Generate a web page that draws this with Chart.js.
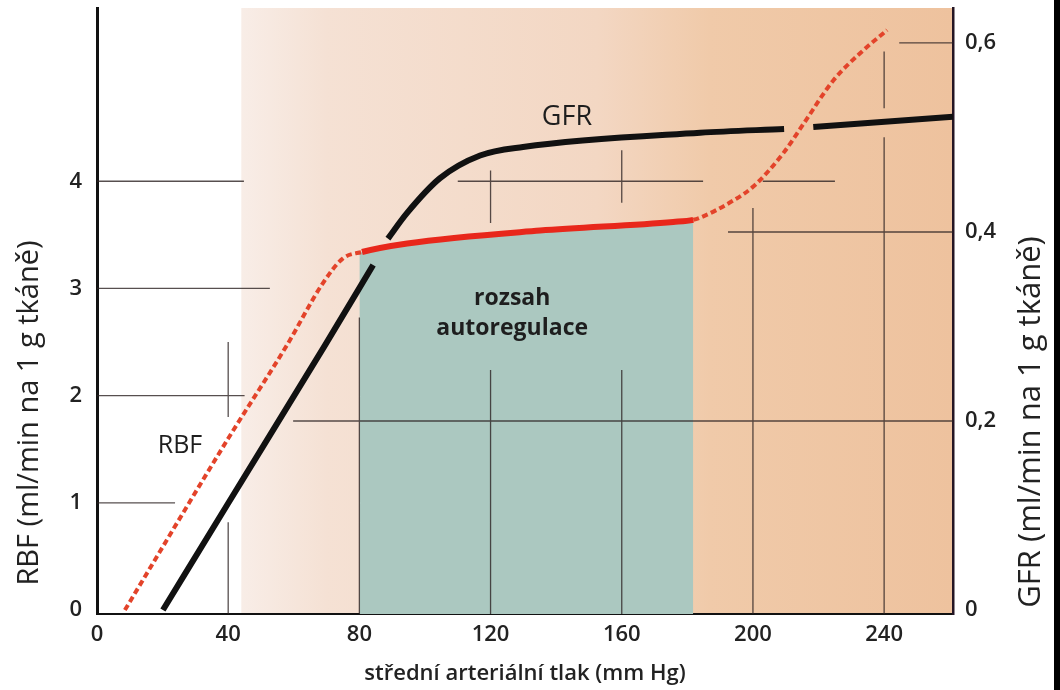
<!DOCTYPE html>
<html>
<head>
<meta charset="utf-8">
<script src="https://cdn.jsdelivr.net/npm/chart.js@4.4.1/dist/chart.umd.min.js"></script>
<style>
  html, body { margin: 0; padding: 0; background: #fff; }
  #wrap { width: 1060px; height: 690px; }
</style>
</head>
<body>
<div id="wrap"><canvas id="renalChart" width="1060" height="690"></canvas></div>
<script>
const pressureTicks = [0, 40, 80, 120, 160, 200, 240];
const rbfTicks = [0, 1, 2, 3, 4];
const gfrTicks = [0, 0.2, 0.4, 0.6];

// RBF, ml/min na 1 g (left axis)
const rbfPressure = [8.5, 40, 57.9, 68.9, 75, 80.8, 94.6, 135.1, 175.7, 181.8, 183.9, 194, 200.1, 209.2, 215.3, 224.5, 233.6, 240.9];
const rbfValues   = [0, 1.6, 2.47, 3.05, 3.28, 3.34, 3.42, 3.54, 3.62, 3.64, 3.66, 3.82, 3.95, 4.26, 4.53, 4.94, 5.22, 5.41];

// GFR, ml/min na 1 g (right axis); null = where the line is broken
const gfrPressure = [20.1, 40, 69.5, 84.2, 86.5, 88.7, 94.5, 104.6, 116.8, 129.9, 183.9, 209.5, 214, 218.4, 261];
const gfrValues   = [0, 0.113, 0.28, 0.365, null, 0.393, 0.42, 0.457, 0.481, 0.49, 0.505, 0.509, null, 0.511, 0.522];

// autoregulation range (mm Hg) and RBF at its left edge
const autoregStart = 80;
const autoregEnd = 181.8;
const rbfAtAutoregStart = 3.33;

const FONT = '"Open Sans", "Noto Sans", sans-serif';
const X_MAX = 261, Y_MIN = -0.037, Y_MAX = 5.616, Y2_MIN = -0.0042, Y2_MAX = 0.637;

const rbfPoints = rbfPressure.map((p, i) => ({ x: p, y: rbfValues[i] }));
const gfrPoints = gfrPressure.map((p, i) => ({ x: p, y: gfrValues[i] }));
const tealPoints = [{ x: autoregStart, y: rbfAtAutoregStart }]
  .concat(rbfPoints.filter(p => p.x > autoregStart && p.x <= autoregEnd));

// thin guide lines of the figure (partial, broken where curves cross)
const guideLines = [
  { axis: 'y', at: 4, from: 0, to: 44.8 },
  { axis: 'y', at: 3, from: 0, to: 52.7 },
  { axis: 'y', at: 2, from: 0, to: 45 },
  { axis: 'y', at: 1, from: 0, to: 23.8 },
  { axis: 'y', at: 4, from: 110, to: 184.8 },
  { axis: 'y', at: 4, from: 203, to: 225 },
  { axis: 'y2', at: 0.2, from: 59.8, to: X_MAX },
  { axis: 'y2', at: 0.4, from: 192.4, to: X_MAX },
  { axis: 'y2', at: 0.6, from: 244.6, to: X_MAX },
  { axis: 'x', at: 40, from: 2.5, to: 1.8 },
  { axis: 'x', at: 40, from: 0.82, to: Y_MIN },
  { axis: 'x', at: 80, from: 2.73, to: Y_MIN },
  { axis: 'x', at: 120, from: 4.1, to: 3.61 },
  { axis: 'x', at: 120, from: 2.24, to: Y_MIN },
  { axis: 'x', at: 160, from: 4.29, to: 3.8 },
  { axis: 'x', at: 160, from: 2.24, to: Y_MIN },
  { axis: 'x', at: 200, from: 3.75, to: Y_MIN },
  { axis: 'x', at: 240, from: 5.21, to: 4.68 },
  { axis: 'x', at: 240, from: 4.41, to: Y_MIN }
];

const inAutoreg = ctx => ctx.p0.parsed.x >= autoregStart && ctx.p1.parsed.x <= autoregEnd;

const noPad = s => { s.paddingTop = 0; s.paddingBottom = 0; s.paddingLeft = 0; s.paddingRight = 0; };

const paperPlugin = {
  id: 'paper',
  beforeDraw(chart) {
    const { ctx, chartArea: a, scales: { x } } = chart;
    ctx.save();
    ctx.fillStyle = '#ffffff';
    ctx.fillRect(0, 0, chart.width, chart.height);
    const left = x.getPixelForValue(44);
    const g = ctx.createLinearGradient(left, 0, a.right, 0);
    g.addColorStop(0, '#f8ede7');
    g.addColorStop(0.12, '#f5e1d4');
    g.addColorStop(0.5, '#f3d7c3');
    g.addColorStop(0.66, '#f0caa9');
    g.addColorStop(1, '#eec29e');
    ctx.fillStyle = g;
    ctx.fillRect(left, a.top, a.right - left, a.bottom - a.top);
    ctx.restore();
  },
  afterDatasetDraw(chart, args) {
    if (args.index !== 2) return;
    const { ctx, scales } = chart;
    ctx.save();
    ctx.strokeStyle = 'rgba(45,35,35,0.8)';
    ctx.lineWidth = 1.3;
    ctx.beginPath();
    guideLines.forEach(l => {
      if (l.axis === 'x') {
        const px = scales.x.getPixelForValue(l.at);
        ctx.moveTo(px, scales.y.getPixelForValue(l.from));
        ctx.lineTo(px, scales.y.getPixelForValue(l.to));
      } else {
        const py = scales[l.axis].getPixelForValue(l.at);
        ctx.moveTo(scales.x.getPixelForValue(l.from), py);
        ctx.lineTo(scales.x.getPixelForValue(l.to), py);
      }
    });
    ctx.stroke();
    ctx.restore();
  },
  afterDraw(chart) {
    const { ctx, scales: { x, y } } = chart;
    ctx.save();
    ctx.fillStyle = '#1e1e1e';
    ctx.textAlign = 'center';
    ctx.textBaseline = 'middle';
    ctx.font = '400 27px ' + FONT;
    ctx.fillText('GFR', x.getPixelForValue(143.3), y.getPixelForValue(4.6));
    ctx.font = '400 25px ' + FONT;
    ctx.fillText('RBF', x.getPixelForValue(25.3), y.getPixelForValue(1.53));
    ctx.font = '700 23px ' + FONT;
    ctx.fillText('rozsah', x.getPixelForValue(126.6), y.getPixelForValue(2.91));
    ctx.fillText('autoregulace', x.getPixelForValue(126.6), y.getPixelForValue(2.63));

    ctx.fillStyle = '#222';
    ctx.font = '400 29px ' + FONT;
    ctx.translate(30, 413);
    ctx.rotate(-Math.PI / 2);
    ctx.fillText('RBF (ml/min na 1 g tkáně)', 0, 0);
    ctx.setTransform(1, 0, 0, 1, 0, 0);
    ctx.font = '400 31px ' + FONT;
    ctx.translate(1031, 422);
    ctx.rotate(-Math.PI / 2);
    ctx.fillText('GFR (ml/min na 1 g tkáně)', 0, 0);
    ctx.setTransform(1, 0, 0, 1, 0, 0);

    ctx.fillStyle = '#000';
    ctx.fillRect(1054, 0, 6, chart.height);
    ctx.restore();
  }
};

const tickFont = { family: FONT, size: 22, weight: '600' };

new Chart(document.getElementById('renalChart'), {
  type: 'line',
  data: {
    datasets: [
      {
        label: 'RBF',
        data: rbfPoints,
        yAxisID: 'y',
        borderColor: '#e3432a',
        borderWidth: 4,
        borderCapStyle: 'butt',
        pointRadius: 0,
        fill: false,
        cubicInterpolationMode: 'monotone',
        segment: {
          borderDash: ctx => inAutoreg(ctx) ? [] : [6, 3.5],
          borderWidth: ctx => inAutoreg(ctx) ? 6 : 4,
          borderColor: ctx => inAutoreg(ctx) ? '#e8271b' : '#e3432a'
        }
      },
      {
        label: 'GFR',
        data: gfrPoints,
        yAxisID: 'y2',
        borderColor: '#111111',
        borderWidth: 6,
        pointRadius: 0,
        fill: false,
        spanGaps: false,
        cubicInterpolationMode: 'monotone'
      },
      {
        label: 'rozsah autoregulace',
        data: tealPoints,
        yAxisID: 'y',
        borderWidth: 0,
        borderColor: 'rgba(0,0,0,0)',
        backgroundColor: '#abc8c0',
        pointRadius: 0,
        fill: 'start',
        cubicInterpolationMode: 'monotone'
      }
    ]
  },
  options: {
    responsive: false,
    animation: false,
    devicePixelRatio: 1,
    layout: { padding: { top: 8, left: 0, right: 0, bottom: 0 } },
    plugins: { legend: { display: false }, tooltip: { enabled: false } },
    scales: {
      x: {
        type: 'linear',
        min: 0,
        max: X_MAX,
        afterBuildTicks: s => { s.ticks = pressureTicks.map(v => ({ value: v })); },
        afterFit: s => { s.height = 76; noPad(s); },
        grid: { display: false, drawTicks: false },
        border: { display: true, color: '#111', width: 2 },
        ticks: { font: tickFont, color: '#222', padding: 8, maxRotation: 0, autoSkip: false },
        title: {
          display: true,
          text: 'střední arteriální tlak (mm Hg)',
          font: { family: FONT, size: 22, weight: '600' },
          color: '#222',
          padding: { top: 0, bottom: 3 }
        }
      },
      y: {
        position: 'left',
        min: Y_MIN,
        max: Y_MAX,
        afterBuildTicks: s => { s.ticks = rbfTicks.map(v => ({ value: v })); },
        afterFit: s => { s.width = 97; noPad(s); },
        grid: { display: false, drawTicks: false },
        border: { display: true, color: '#111', width: 3 },
        ticks: { font: tickFont, color: '#222', padding: 15 }
      },
      y2: {
        position: 'right',
        min: Y2_MIN,
        max: Y2_MAX,
        afterBuildTicks: s => { s.ticks = gfrTicks.map(v => ({ value: v })); },
        afterFit: s => { s.width = 107; noPad(s); },
        grid: { display: false, drawTicks: false },
        border: { display: true, color: '#241524', width: 2.5 },
        ticks: {
          font: tickFont,
          color: '#222',
          padding: 12,
          callback: v => String(v).replace('.', ',')
        }
      }
    }
  },
  plugins: [paperPlugin]
});
</script>
</body>
</html>
